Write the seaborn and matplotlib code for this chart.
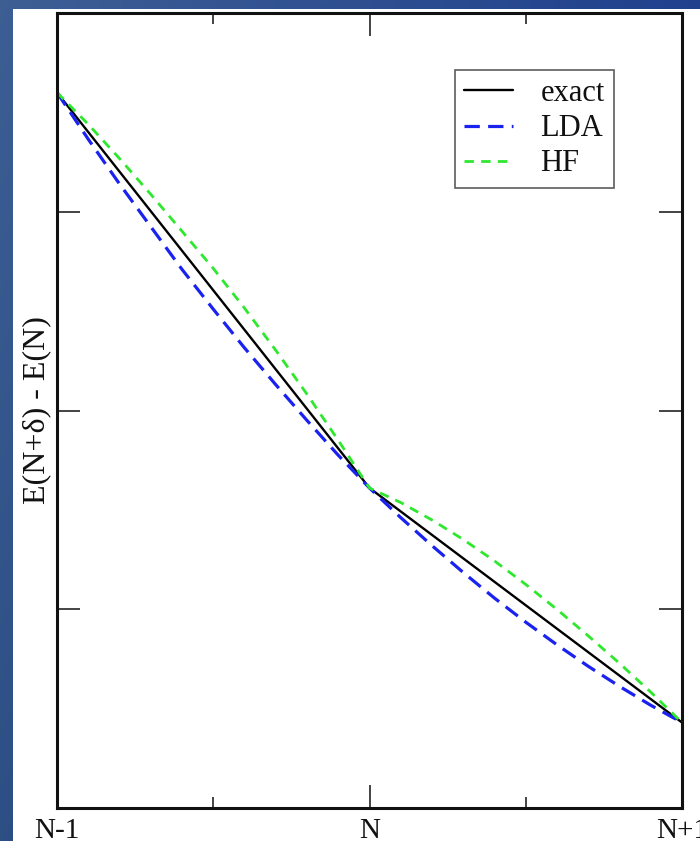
import numpy as np
import pandas as pd
import matplotlib
matplotlib.use("Agg")
import matplotlib.pyplot as plt
from matplotlib.patches import Rectangle
from matplotlib.ticker import FixedLocator
import seaborn as sns

# ---- data ----
delta_exact = [-1.0, 0.0, 1.0]
exact = [3.60, 1.61, 0.43]
delta = [-1.0, -0.9, -0.8, -0.7, -0.6, -0.5, -0.4, -0.3, -0.2, -0.1, 0.0,
         0.1, 0.2, 0.3, 0.4, 0.5, 0.6, 0.7, 0.8, 0.9, 1.0]
lda = [3.60, 3.365, 3.14, 2.925, 2.71, 2.51, 2.315, 2.13, 1.95, 1.775, 1.61,
       1.461, 1.320, 1.185, 1.056, 0.935, 0.821, 0.713, 0.612, 0.517, 0.43]
hf = [3.60, 3.44, 3.268, 3.088, 2.902, 2.715, 2.515, 2.303, 2.082, 1.850, 1.61,
      1.537, 1.449, 1.351, 1.243, 1.125, 0.999, 0.866, 0.728, 0.583, 0.43]
series_names = ["exact", "LDA", "HF"]
x_tick_pos = [-1, 0, 1]
x_tick_labels = ["N-1", "N", "N+1"]
y_label = "E(N+δ) - E(N)"

df = pd.DataFrame({
    "delta": delta_exact + delta + delta,
    "value": exact + lda + hf,
    "method": [series_names[0]] * len(delta_exact)
              + [series_names[1]] * len(delta) + [series_names[2]] * len(delta),
})

sns.set_style("ticks")
plt.rcParams["font.family"] = ["Liberation Serif", "DejaVu Serif"]
plt.rcParams["text.color"] = "#111111"
plt.rcParams["xtick.color"] = "#111111"
plt.rcParams["ytick.color"] = "#111111"
plt.rcParams["axes.labelcolor"] = "#111111"

W, H = 700, 841
fig = plt.figure(figsize=(W / 100, H / 100), dpi=100)

# slide-like blue gradient background with white panel
bg = fig.add_axes([0, 0, 1, 1], zorder=-5)
gx = np.linspace(0, 1, 200)[None, :, None]
gy = np.linspace(0, 1, 200)[:, None, None]
c1 = np.array([0.24, 0.37, 0.58])
c2 = np.array([0.10, 0.22, 0.55])
img = c1 * (1 - 0.8 * gx) + c2 * (0.8 * gx) - 0.06 * gy
bg.imshow(np.clip(img, 0, 1), extent=[0, 1, 0, 1], aspect="auto", origin="upper")
bg.add_patch(Rectangle((13 / W, 0), 1, 1 - 9 / H, transform=bg.transAxes,
                       facecolor="white", edgecolor="none"))
bg.set_xlim(0, 1)
bg.set_ylim(0, 1)
bg.axis("off")

ax = fig.add_axes([57 / W, 33 / H, (682 - 57) / W, (808 - 13) / H])
ax.set_facecolor("white")

palette = {"exact": "#000000", "LDA": "#1a22f0", "HF": "#2ee82e"}
dashes = {"exact": "", "LDA": (4.8, 2.6), "HF": (3.4, 2.6)}
sns.lineplot(data=df, x="delta", y="value", hue="method", style="method",
             palette=palette, dashes=dashes, hue_order=series_names,
             style_order=series_names, ax=ax, legend=False, sort=False)
widths = {"exact": 1.7, "LDA": 2.3, "HF": 2.0}
for line, name in zip(ax.get_lines(), series_names):
    line.set_linewidth(widths[name])
    line.set_label(name)

ax.set_xlim(-1, 1)
ax.set_ylim(0, 4)
ax.xaxis.set_major_locator(FixedLocator(x_tick_pos))
ax.set_xticklabels(x_tick_labels, fontsize=21)
ax.xaxis.set_minor_locator(FixedLocator([-0.5, 0.5]))
ax.yaxis.set_major_locator(FixedLocator([1, 2, 3]))
ax.set_yticklabels([])
ax.tick_params(axis="both", which="major", direction="in", length=16.5,
               width=1.1, top=True, right=True)
ax.tick_params(axis="x", which="major", pad=7)
ax.tick_params(axis="x", which="minor", direction="in", length=8,
               width=1.1, top=True, bottom=True)
for s in ax.spines.values():
    s.set_linewidth(2.2)
    s.set_color("#111111")
ax.set_xlabel("")
ax.set_ylabel(y_label, fontsize=23, labelpad=1)

leg = ax.legend(loc="upper right", bbox_to_anchor=((614 - 57) / 625, (808 - 70) / 795),
                borderaxespad=0, fontsize=22, frameon=True, fancybox=False,
                handlelength=1.6, handletextpad=0.9, labelspacing=0.2,
                borderpad=0.3)
leg.get_frame().set_edgecolor("#333333")
leg.get_frame().set_linewidth(1.2)

fig.savefig("out.png", dpi=100)
